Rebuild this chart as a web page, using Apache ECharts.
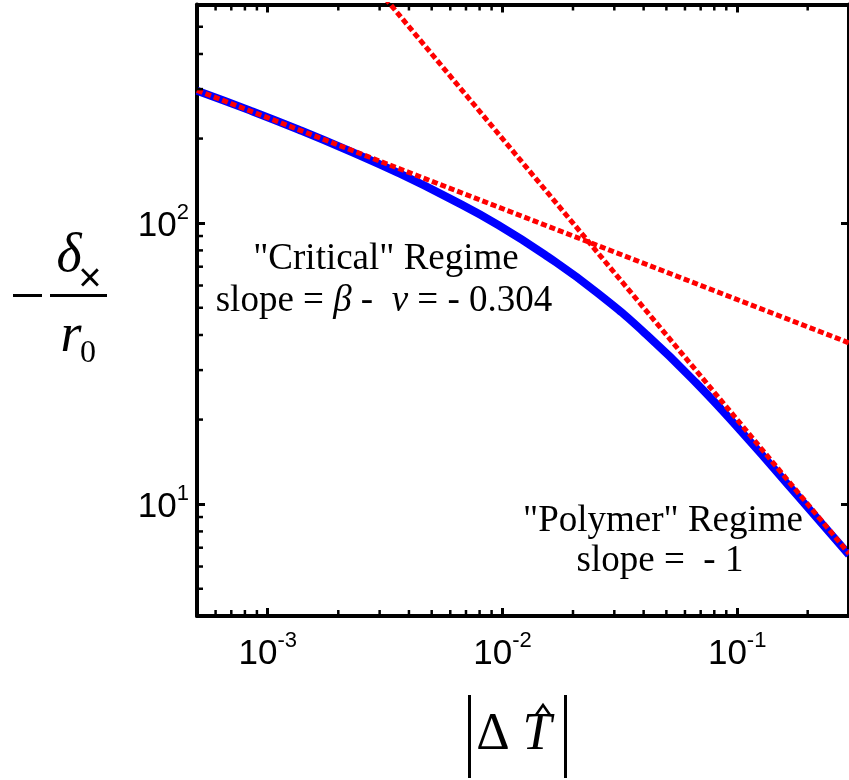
<!DOCTYPE html>
<html><head><meta charset="utf-8">
<script src="https://cdn.jsdelivr.net/npm/echarts@6/dist/echarts.min.js"></script>
<style>html,body{margin:0;padding:0;background:#fff}#c{width:849px;height:780px}</style>
</head><body><div id="c"></div>
<script>
// ---- data ----
const blueX = [5.0e-4, 8.4e-4, 1.36e-3, 2.22e-3, 3.6e-3, 5.9e-3, 9.6e-3, 0.0156, 0.0254, 0.0413, 0.0673, 0.109, 0.178, 0.30];
const blueY = [296, 252, 215, 181, 151, 123, 98.5, 76, 56.5, 40, 26.9, 17.4, 10.9, 6.6];
const criticalX = [5.0e-4, 0.30];
const criticalY = [297, 37.5];
const polymerX = [0.003, 0.30];
const polymerY = [667, 6.67];
const xRange = [5e-4, 0.3];
const yRange = [4, 600];
const criticalText = ['"Critical" Regime', ['slope = ', 'β', ' -  ', 'ν', ' = - 0.304']];
const polymerText = ['"Polymer" Regime', 'slope =  - 1'];

const serif = '"Liberation Serif","Times New Roman",serif';
const sans = '"Liberation Sans",Arial,sans-serif';
const G = {left: 197, top: 4.5, width: 656, height: 611.5};

function pow10Label(v) {
  const e = Math.log10(v), r = Math.round(e);
  if (Math.abs(e - r) > 1e-6) return '';
  return '{h| }{b|10}{s|' + r + '}';
}
const labelRich = {
  b: {fontFamily: sans, fontSize: 35, lineHeight: 35, verticalAlign: 'bottom', color: '#000'},
  s: {fontFamily: sans, fontSize: 22, lineHeight: 22, verticalAlign: 'top', color: '#000'},
  h: {fontSize: 1, lineHeight: 42}
};
function axisBase(extra) {
  return Object.assign({
    type: 'log', logBase: 10,
    axisLine: {show: true, onZero: false, lineStyle: {color: '#000', width: 4}},
    axisTick: {show: true, inside: true, length: 8, lineStyle: {color: '#000', width: 3}},
    splitLine: {show: false},
    minorTick: {show: false}, minorSplitLine: {show: false}
  }, extra);
}
const chart = echarts.init(document.getElementById('c'));
const dashed = {color: '#ff0000', width: 5, type: [6, 3], cap: 'butt'};
chart.setOption({
  animation: false,
  backgroundColor: '#fff',
  grid: G,
  xAxis: [
    axisBase({min: xRange[0], max: xRange[1], position: 'bottom',
      axisLabel: {show: true, margin: 14, formatter: pow10Label, rich: labelRich, showMinLabel: false, showMaxLabel: false}}),
    axisBase({min: xRange[0], max: xRange[1], position: 'top', axisLabel: {show: false}})
  ],
  yAxis: [
    axisBase({min: yRange[0], max: yRange[1], position: 'left',
      axisLabel: {show: true, margin: 8, formatter: pow10Label, rich: labelRich, showMinLabel: false, showMaxLabel: false}}),
    axisBase({min: yRange[0], max: yRange[1], position: 'right', axisLabel: {show: false}})
  ],
  series: [
    {type: 'line', data: blueX.map((x, i) => [x, blueY[i]]), symbol: 'none', smooth: 0.5, clip: true,
      lineStyle: {color: '#0000ff', width: 8}, z: 2},
    {type: 'line', data: criticalX.map((x, i) => [x, criticalY[i]]), symbol: 'none', clip: true,
      lineStyle: dashed, z: 3},
    {type: 'line', data: polymerX.map((x, i) => [x, polymerY[i]]), symbol: 'none', clip: true,
      lineStyle: dashed, z: 3}
  ]
});

// minor ticks (2..9 x 10^k) placed through the axis scales
function minorVals(min, max) {
  const out = [];
  for (let k = Math.floor(Math.log10(min)); k <= Math.ceil(Math.log10(max)); k++)
    for (let m = 2; m <= 9; m++) { const v = m * Math.pow(10, k); if (v > min && v < max) out.push(v); }
  return out;
}
const gr = [];
const gBottom = G.top + G.height, gTop = G.top, gLeft = G.left, gRight = G.left + G.width;
const tickStyle = {stroke: '#000', lineWidth: 2.5};
minorVals(xRange[0], xRange[1]).forEach(v => {
  const px = chart.convertToPixel({xAxisIndex: 0}, v);
  gr.push({type: 'line', shape: {x1: px, y1: gBottom, x2: px, y2: gBottom - 6}, style: tickStyle, z: 10});
  gr.push({type: 'line', shape: {x1: px, y1: gTop, x2: px, y2: gTop + 6}, style: tickStyle, z: 10});
});
minorVals(yRange[0], yRange[1]).forEach(v => {
  const py = chart.convertToPixel({yAxisIndex: 0}, v);
  gr.push({type: 'line', shape: {x1: gLeft, y1: py, x2: gLeft + 6, y2: py}, style: tickStyle, z: 10});
  gr.push({type: 'line', shape: {x1: gRight, y1: py, x2: gRight - 6, y2: py}, style: tickStyle, z: 10});
});

function txt(x, y, text, opts) {
  return {type: 'text', x: x, y: y, z: 20,
    style: Object.assign({text: text, fill: '#000', fontFamily: serif, fontSize: 37,
      align: 'center', textAlign: 'center', verticalAlign: 'middle', textVerticalAlign: 'middle'}, opts || {})};
}
// annotations
gr.push(txt(386, 259, criticalText[0]));
const seg = criticalText[1];
gr.push(txt(384, 301, '{n|' + seg[0] + '}{i|' + seg[1] + '}{n|' + seg[2] + '}{i|' + seg[3] + '}{n|' + seg[4] + '}', {
  rich: {n: {fontFamily: serif, fontSize: 37, fill: '#000'}, i: {fontFamily: serif, fontSize: 37, fontStyle: 'italic', fill: '#000'}}
}));
gr.push(txt(663, 521, polymerText[0]));
gr.push(txt(660, 561, polymerText[1]));

// y axis title: - delta_x / r_0
gr.push({type: 'rect', shape: {x: 13, y: 294, width: 29, height: 3}, style: {fill: '#000'}});
gr.push({type: 'rect', shape: {x: 50, y: 294, width: 57, height: 3}, style: {fill: '#000'}});
gr.push(txt(69, 257, 'δ', {fontSize: 54, fontStyle: 'italic'}));
gr.push(txt(90, 280, '×', {fontSize: 40, fontFamily: sans}));
gr.push(txt(71, 337, 'r', {fontSize: 54, fontStyle: 'italic'}));
gr.push(txt(88, 354, '0', {fontSize: 32}));
// x axis title: |Delta T-hat|
gr.push({type: 'rect', shape: {x: 468, y: 695, width: 3, height: 83}, style: {fill: '#000'}});
gr.push({type: 'rect', shape: {x: 564, y: 695, width: 3, height: 83}, style: {fill: '#000'}});
gr.push(txt(493, 735, 'Δ', {fontSize: 52}));
gr.push(txt(537, 735, 'T', {fontSize: 52, fontStyle: 'italic'}));
gr.push({type: 'polyline', shape: {points: [[536, 715], [543, 705], [550, 715]]}, style: {stroke: '#000', lineWidth: 2.5, fill: null}});

chart.setOption({graphic: gr});
</script>
</body></html>
